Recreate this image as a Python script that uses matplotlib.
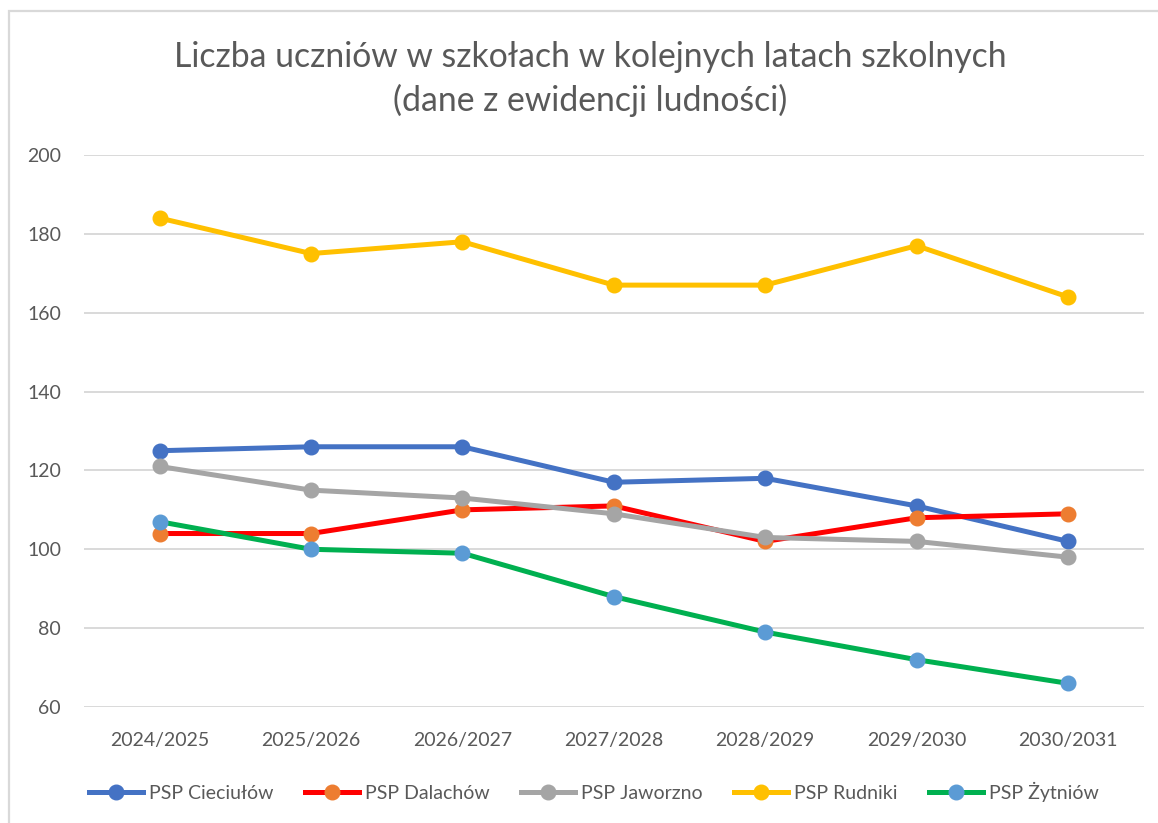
import matplotlib
matplotlib.use("Agg")
import matplotlib.pyplot as plt
from matplotlib.patches import Rectangle
from matplotlib.lines import Line2D

years = ["2024/2025", "2025/2026", "2026/2027", "2027/2028", "2028/2029", "2029/2030", "2030/2031"]
cieciulow = [125, 126, 126, 117, 118, 111, 102]
dalachow = [104, 104, 110, 111, 102, 108, 109]
jaworzno = [121, 115, 113, 109, 103, 102, 98]
rudniki = [184, 175, 178, 167, 167, 177, 164]
zytniow = [107, 100, 99, 88, 79, 72, 66]
names = ["PSP Cieciułów", "PSP Dalachów", "PSP Jaworzno", "PSP Rudniki", "PSP Żytniów"]
yticks = [60, 80, 100, 120, 140, 160, 180, 200]

series = [cieciulow, dalachow, jaworzno, rudniki, zytniow]
line_colors = ["#4472C4", "#FF0000", "#A5A5A5", "#FFC000", "#00B050"]
marker_colors = ["#4472C4", "#ED7D31", "#A5A5A5", "#FFC000", "#5B9BD5"]

plt.rcParams['font.family'] = ['Lato', 'DejaVu Sans']
fig = plt.figure(figsize=(11.58, 8.23), dpi=100)
fig.patch.set_facecolor("white")

# chart border
fig.patches.append(Rectangle((9/1158, -0.1), 1.2, (823-11)/823 + 0.1, transform=fig.transFigure,
                             fill=False, edgecolor="#D9D9D9", linewidth=1.6))

ax = fig.add_axes([84/1158, (823-707)/823, (1143.7-84)/1158, (707-155)/823])
x = list(range(len(years)))
for s, lc, mc in zip(series, line_colors, marker_colors):
    ax.plot(x, s, color=lc, lw=3.6, marker="o", markersize=10.5,
            markerfacecolor=mc, markeredgecolor=mc, solid_capstyle="round", zorder=3)

ax.set_xlim(-0.5, 6.5)
ax.set_ylim(60, 200)
ax.set_yticks(yticks)
ax.set_xticks(x)
ax.set_xticklabels(years)
ax.grid(axis="y", color="#D9D9D9", lw=1.4)
ax.set_axisbelow(True)
for sp in ax.spines.values():
    sp.set_visible(False)
ax.tick_params(axis="both", length=0, labelsize=14, labelcolor="#595959")
ax.tick_params(axis="x", pad=18)
ax.tick_params(axis="y", pad=16.5)

fig.text(590/1158, 1 - 57/823, "Liczba uczniów w szkołach w kolejnych latach szkolnych",
         ha="center", va="center", fontsize=24.3, color="#595959")
fig.text(590/1158, 1 - 100/823, "(dane z ewidencji ludności)",
         ha="center", va="center", fontsize=24.3, color="#595959")

handles = [Line2D([0], [0], color=lc, lw=3.6, marker="o", markersize=10.5,
                  markerfacecolor=mc, markeredgecolor=mc)
           for lc, mc in zip(line_colors, marker_colors)]
fig.legend(handles, names, loc="center", bbox_to_anchor=(594/1158, 1 - 792/823),
           ncol=5, frameon=False, fontsize=14, labelcolor="#595959",
           handlelength=2.8, handletextpad=0.3, columnspacing=1.6)

fig.savefig("out.png", dpi=100, facecolor="white")
